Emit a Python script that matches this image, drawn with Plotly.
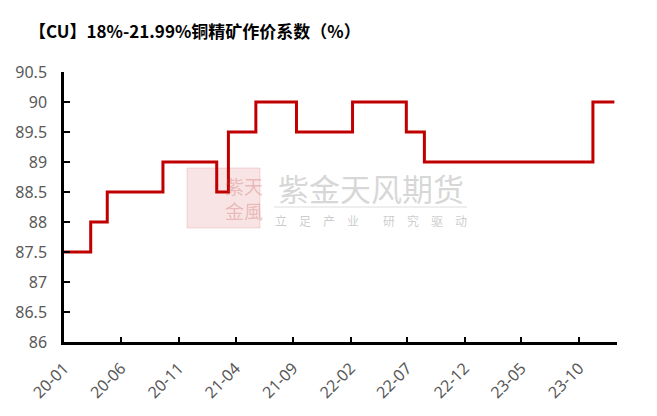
import plotly.graph_objects as go

# step change dates and values (value holds until next date)
change_dates = ["2020-01-01", "2020-03-12", "2020-04-25", "2020-09-20", "2021-02-10",
                "2021-03-13", "2021-05-25", "2021-09-10", "2022-02-06", "2022-06-29",
                "2022-08-16", "2023-11-07", "2024-01-03"]
coef_values = [87.5, 88.0, 88.5, 89.0, 88.5, 89.5, 90.0, 89.5, 90.0, 89.5, 89.0, 90.0, 90.0]

y_ticks = [86, 86.5, 87, 87.5, 88, 88.5, 89, 89.5, 90, 90.5]
y_tick_labels = ["86", "86.5", "87", "87.5", "88", "88.5", "89", "89.5", "90", "90.5"]

title_text = "【CU】18%-21.99%铜精矿作价系数（%）"

fig = go.Figure()
fig.add_trace(go.Scatter(
    x=change_dates, y=coef_values, mode="lines",
    line=dict(color="#C00000", width=3, shape="hv"),
    showlegend=False, hoverinfo="x+y"))

font_main = "Noto Sans, Open Sans, sans-serif"

# page has an 8px body margin, so the figure is sized/offset to compensate
fig.update_layout(
    width=649, height=408,
    margin=dict(l=56, r=40, t=64, b=74),
    paper_bgcolor="white", plot_bgcolor="white",
    font=dict(family=font_main, color="#595959"),
    xaxis=dict(
        type="date", range=["2020-01-01", "2024-01-10"], automargin=False,
        tick0="2020-01-01", dtick="M5", tickformat="%y-%m",
        tickangle=-45, ticks="inside", ticklen=5, tickwidth=2, tickcolor="black",
        showline=True, linecolor="black", linewidth=2.5, showgrid=False, zeroline=False,
        ticklabelstandoff=8,
        tickfont=dict(size=16, color="#595959", family=font_main),
    ),
    yaxis=dict(
        range=[86, 90.5], tickvals=y_ticks, ticktext=y_tick_labels, automargin=False,
        ticks="inside", ticklen=6, tickwidth=2, tickcolor="black",
        showline=True, linecolor="black", linewidth=2.5, showgrid=False, zeroline=False,
        ticklabelstandoff=11,
        tickfont=dict(size=16, color="#595959", family=font_main),
    ),
)

def px(x):
    return (x - 64) / 553

def py(y):
    return (342 - y) / 270

# title
fig.add_annotation(text="<b>" + title_text + "</b>", xref="paper", yref="paper",
                   x=px(27), y=py(31), xanchor="left", yanchor="middle",
                   showarrow=False,
                   font=dict(size=17, color="black", family="Noto Sans CJK SC, Noto Sans, sans-serif"))

# watermark (logo + text)
fig.add_shape(type="rect", xref="paper", yref="paper",
              x0=px(187), x1=px(260), y0=py(228), y1=py(168),
              fillcolor="rgba(220,120,120,0.20)", line=dict(color="rgba(220,120,120,0.25)", width=1),
              layer="below")
fig.add_annotation(text="紫天<br>金風", xref="paper", yref="paper", x=px(223), y=py(198),
                   showarrow=False, font=dict(size=19, color="rgba(200,80,80,0.3)",
                                              family="Noto Sans CJK SC"))
fig.add_annotation(text="紫金天风期货", xref="paper", yref="paper", x=px(371), y=py(187),
                   showarrow=False, font=dict(size=31, color="rgba(175,175,175,0.5)",
                                              family="Noto Sans CJK SC"))
fig.add_shape(type="line", xref="paper", yref="paper", x0=px(274), x1=px(467),
              y0=py(207), y1=py(207), line=dict(color="rgba(190,190,190,0.5)", width=1),
              layer="below")
fig.add_annotation(text="立\u3000足\u3000产\u3000业\u3000\u3000研\u3000究\u3000驱\u3000动",
                   xref="paper", yref="paper", x=px(371), y=py(220), showarrow=False,
                   font=dict(size=12, color="rgba(170,170,170,0.6)", family="Noto Sans CJK SC"))

fig.write_html("out.html")
